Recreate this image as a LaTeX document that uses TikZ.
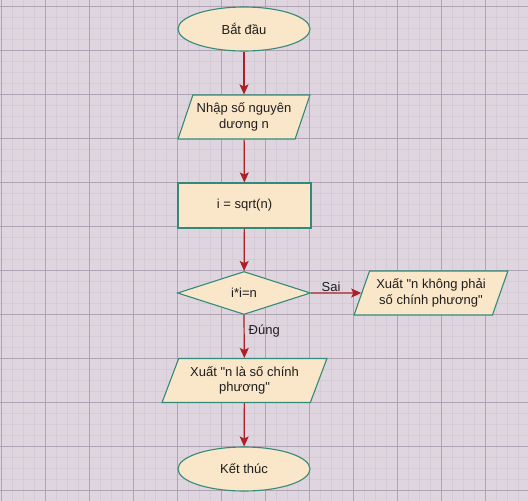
\documentclass[tikz,border=0pt]{standalone}
\usepackage{fontspec}
\setmainfont{Liberation Sans}
\usepackage{tikz}
\usetikzlibrary{shapes.geometric,arrows.meta,positioning,calc}

\definecolor{paper}{RGB}{222,213,223}
\definecolor{minorgrid}{RGB}{213,203,215}
\definecolor{majorgrid}{RGB}{176,164,180}
\definecolor{boxfill}{RGB}{250,230,200}
\definecolor{boxline}{RGB}{52,138,122}
\definecolor{flowred}{RGB}{172,32,42}
\definecolor{inktext}{RGB}{30,30,30}

\tikzset{
  base/.style={draw=boxline, fill=boxfill, line width=1.1pt, text=inktext,
    font=\fontsize{13}{15.5}\selectfont, align=center, inner sep=0pt},
  terminal/.style={base, ellipse, minimum width=132pt, minimum height=44pt},
  io/.style={base, trapezium, trapezium left angle=64, trapezium right angle=116,
    trapezium stretches=true, minimum height=44pt},
  process/.style={base, rectangle, minimum width=133pt, minimum height=45pt},
  decision/.style={base, diamond, minimum width=133pt, minimum height=43pt},
  flow/.style={draw=flowred, line width=1.2pt, -{Stealth[length=10pt,width=9pt,inset=2pt]}},
  tag/.style={text=inktext, font=\fontsize{13}{15.5}\selectfont, inner sep=1pt}
}

\begin{document}
\begin{tikzpicture}[x=1pt, y=-1pt]
        % Grid
        \useasboundingbox (0,0) rectangle (528,501);
        \fill[paper] (0,0) rectangle (528,501);
        \foreach \i in {0,...,47}
        \draw[minorgrid, line width=0.5pt] (1+11*\i, 0) -- (1+11*\i, 501);
        \foreach \j in {0,...,45}
        \draw[minorgrid, line width=0.5pt] (0, 6+11*\j) -- (528, 6+11*\j);
        \foreach \i in {0,...,11}
        \draw[majorgrid, line width=0.6pt] (1+44*\i, 0) -- (1+44*\i, 501);
        \foreach \j in {0,...,11}
        \draw[majorgrid, line width=0.6pt] (0, 6+44*\j) -- (528, 6+44*\j);

        % Nodes
        \node[terminal] (start) at (244, 29) {Bắt đầu};
        \node[io, minimum width=132pt] (input) at (244, 117) {Nhập số nguyên\\dương n};
        \node[process] (calc) at (244.5, 205.5) {i = sqrt(n)};
        \node[decision] (check) at (244, 293) {i*i=n};
        \node[io, minimum width=154pt] (notsq) at (431, 293) {Xuất \textquotedbl n không phải\\số chính phương\textquotedbl};
        \node[io, minimum width=165pt] (issq) at (244.5, 380.5) {Xuất \textquotedbl n là số chính\\phương\textquotedbl};
        \node[terminal] (stop) at (244, 469) {Kết thúc};

        % Arrows
        \draw[flow] (start) -- (input);
        \draw[flow] (input) -- (calc);
        \draw[flow] (calc) -- (check);
        \draw[flow] (check.east) -- node[tag, above, pos=0.4] {Sai} (notsq);
        \draw[flow] (check.south) -- node[tag, right, pos=0.38, xshift=3pt] {Đúng} (issq);
        \draw[flow] (issq) -- (stop);
    \end{tikzpicture}
\end{document}
